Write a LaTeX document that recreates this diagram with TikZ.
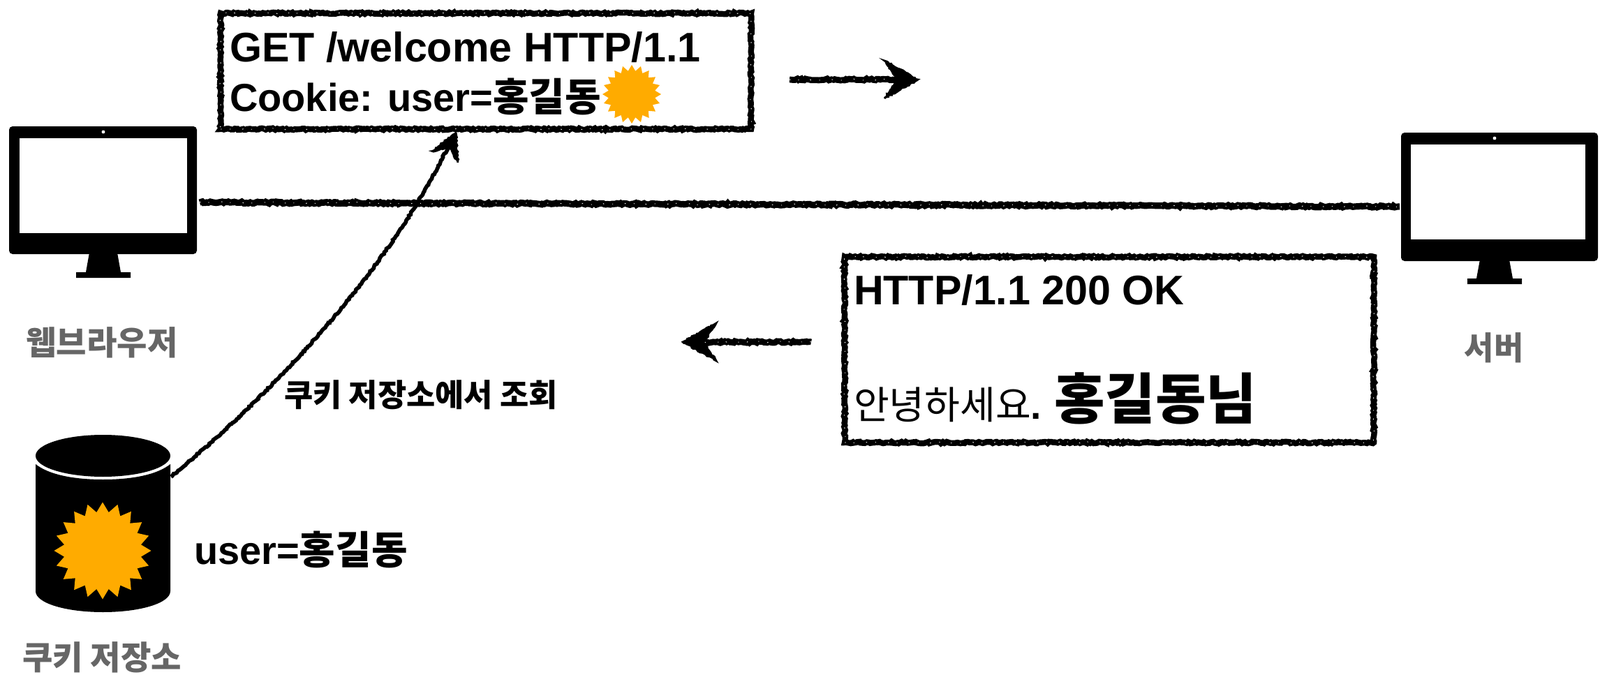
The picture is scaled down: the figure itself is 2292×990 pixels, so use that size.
\documentclass[tikz,border=0pt]{standalone}
\usepackage{fontspec}
\setmainfont{Liberation Sans}
\newfontfamily\kr{Noto Sans CJK KR}
\usetikzlibrary{shapes.geometric,decorations.pathmorphing,calc}
\definecolor{burstc}{HTML}{FFAB00}
\definecolor{labelc}{HTML}{666666}
\newcommand{\fs}[1]{\fontsize{#1}{#1}\selectfont\bfseries}
\newcommand{\skhead}[5]{\begin{scope}[shift={(#1)},rotate=#2]
  \filldraw[sketchhead] (0,0) -- (-#3,-#4) -- (-#5,0) -- (-#3,#4) -- cycle;
\end{scope}}
\tikzset{
  rough/.style={decorate,decoration={random steps,segment length=1.3pt,amplitude=.6pt}},
  speck/.style={postaction={draw=white,line width=.45pt,dash pattern=on .8pt off 6pt on .5pt off 9pt}},
  sketchline/.style={draw=black,line width=4.6pt,rough},
  arrowshaft/.style={draw=black,line width=4.4pt,rough},
  curveshaft/.style={draw=black,line width=2.8pt,decorate,decoration={random steps,segment length=1.3pt,amplitude=.5pt}},
  sketchbox/.style={draw=black,line width=4.2pt,rough,rectangle,inner sep=0pt,outer sep=0pt,anchor=north west},
  sketchhead/.style={draw=black,fill=black,line width=1.4pt,decorate,decoration={random steps,segment length=1.3pt,amplitude=.6pt}},
  monitor/.style={rectangle,fill=black,rounded corners=2.5pt,inner sep=0pt,outer sep=0pt,anchor=north west},
  screen/.style={rectangle,fill=white,inner sep=0pt,outer sep=0pt,anchor=north west},
  camdot/.style={circle,fill=white,inner sep=0pt,minimum size=2.4pt},
  burst/.style={star,star points=20,star point ratio=1.25,fill=burstc,inner sep=0pt,outer sep=0pt},
  txt/.style={anchor=base west,inner sep=0pt,outer sep=0pt,text=black},
  lbl/.style={anchor=center,inner sep=0pt,outer sep=0pt,text=labelc},
}
\begin{document}
\begin{tikzpicture}[x=.5pt,y=-.5pt]
\useasboundingbox (0,0) rectangle (2292,990);
\fill[white] (0,0) rectangle (2292,990);

% browser monitor
\node[monitor,minimum width=134.5pt,minimum height=91.5pt] (browser) at (13,181) {};
\node[screen,minimum width=120pt,minimum height=68pt] (browserscreen) at (28,198) {};
\node[camdot] (browsercam) at (148,189) {};
\fill (128,362) -- (168,362) -- (173,390) -- (187,390) -- (187,398) -- (109,398) -- (109,390) -- (123,390) -- cycle;

% server monitor
\node[monitor,minimum width=141pt,minimum height=92pt] (server) at (2007,190) {};
\node[screen,minimum width=125pt,minimum height=68pt] (serverscreen) at (2021,207) {};
\node[camdot] (servercam) at (2141,198) {};
\fill (2120,372) -- (2162,372) -- (2167,399) -- (2180,399) -- (2180,407) -- (2102,407) -- (2102,399) -- (2115,399) -- cycle;

% wire
\coordinate (wireL) at (286,290);
\coordinate (wireR) at (2005,296);
\draw[sketchline,speck] (wireL) -- (wireR);

% request box
\node[sketchbox,speck,minimum width=380pt,minimum height=83pt] (req) at (316,19) {};
\node[txt,font=\fs{29.6pt}] (reqline) at (329,89) {GET /welcome HTTP/1.1};
\node[txt,font=\fs{28pt}] (cookieline) at (329,160) {Cookie: user={\kr 홍길동}};
\node[burst,minimum size=42pt] (burstA) at (905,135) {};

% response box
\node[sketchbox,speck,minimum width=379pt,minimum height=133pt] (res) at (1210,368) {};
\node[txt,font=\fs{29.6pt}] (statusline) at (1223,436) {HTTP/1.1 200 OK};
\node[txt,font=\fs{27.6pt}] (hello) at (1223,600) {{\kr\mdseries 안녕하세요}.};
\node[txt,font=\fs{39.4pt}] (hong) at (1510,600) {{\kr 홍길동님}};

% direction arrows
\coordinate (toS) at (1131,114);
\coordinate (toE) at (1315,114);
\draw[arrowshaft,speck] (toS) -- (1295,114);
\skhead{toE}{0}{48}{27}{30}
\coordinate (fromS) at (1162,490);
\coordinate (fromE) at (978,490);
\draw[arrowshaft,speck] (fromS) -- (998,490);
\skhead{fromE}{180}{48}{27}{30}

% cylinder
\fill (51,665) -- (51,847) .. controls (51,864) and (94,877) .. (147.5,877) .. controls (201,877) and (244,864) .. (244,847) -- (244,665) .. controls (225,680) and (190,687) .. (147.5,687) .. controls (105,687) and (70,680) .. (51,665) -- cycle;
\fill (147.5,653) ellipse [x radius=96.5,y radius=30];
\coordinate (store) at (245,683);
\node[burst,minimum size=69.5pt] (burstB) at (147,789) {};
\node[txt,font=\fs{28pt}] (userval) at (278,808) {user={\kr 홍길동}};

% lookup arrow
\coordinate (lookupE) at (653,190);
\draw[curveshaft] (store) .. controls (430,530) and (570,360) .. (642,210);
\skhead{lookupE}{66}{38}{20}{22}
\node[lbl,text=black,font=\fs{22.4pt}] (lookuplabel) at (603,566) {\kr 쿠키 저장소에서 조회};

% labels
\node[lbl,font=\fs{23.6pt}] (browserlabel) at (146,491) {\kr 웹브라우저};
\node[lbl,font=\fs{23pt}] (serverlabel) at (2140,498) {\kr 서버};
\node[lbl,font=\fs{23.6pt}] (storelabel) at (146,942) {\kr 쿠키 저장소};
\end{tikzpicture}
\end{document}
